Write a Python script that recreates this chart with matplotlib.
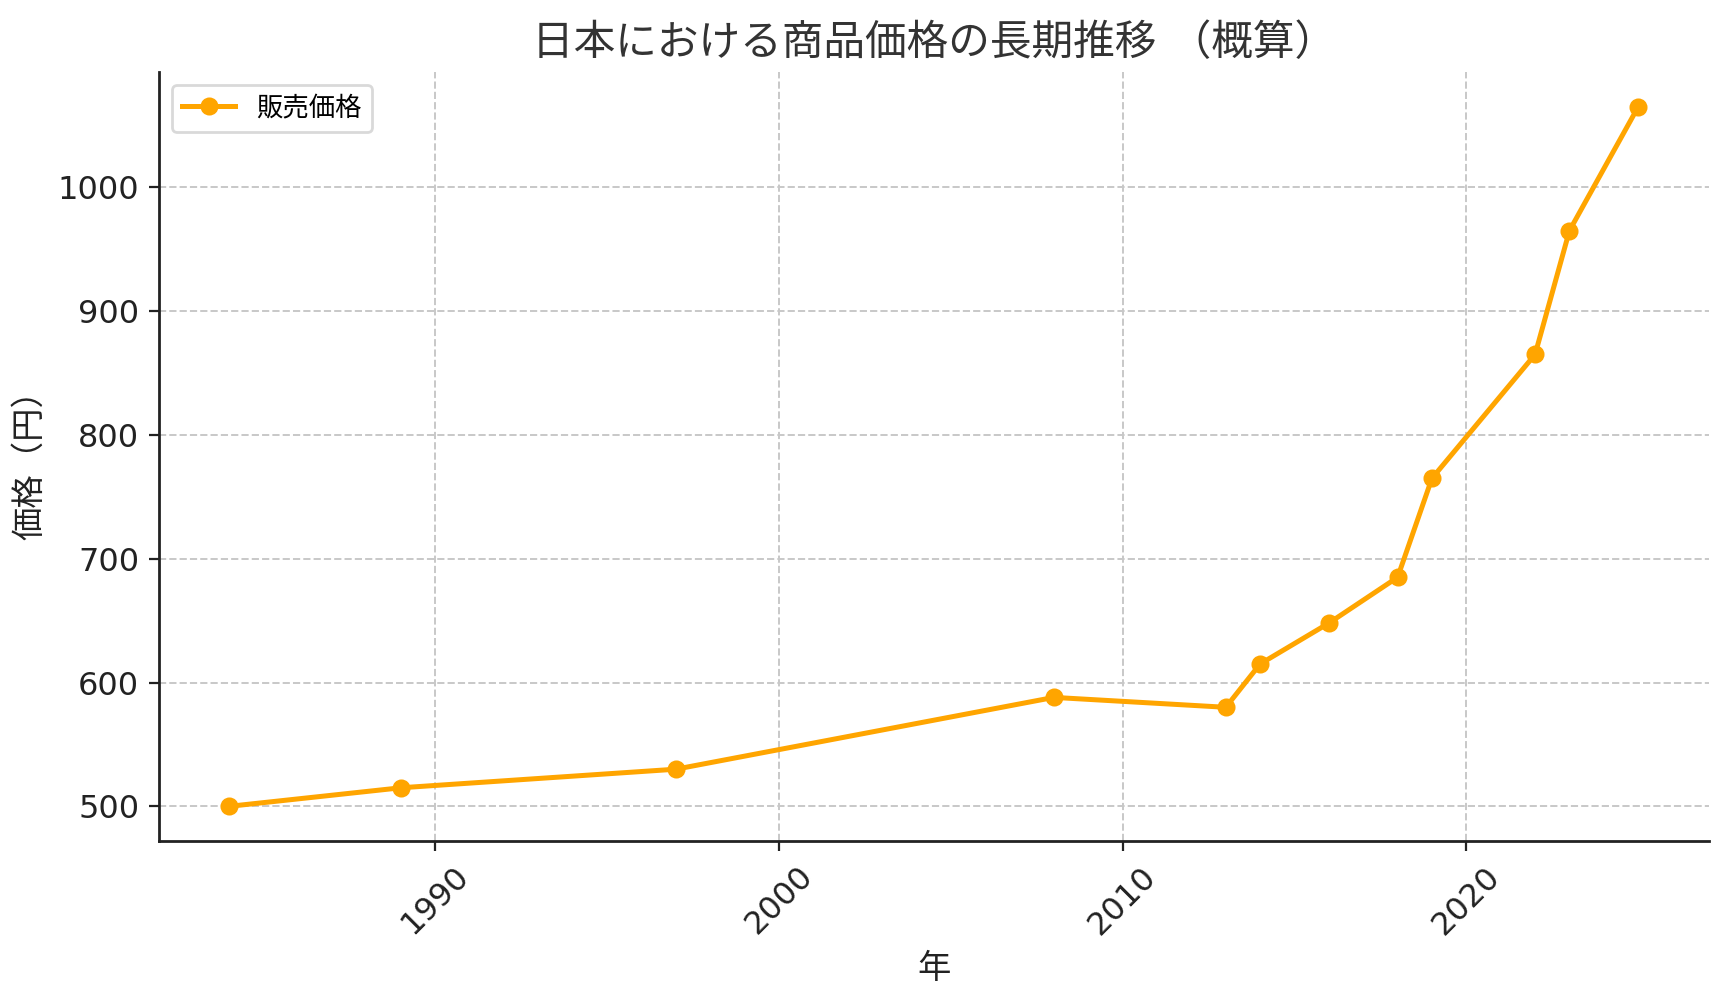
import matplotlib
matplotlib.use("Agg")
import matplotlib.pyplot as plt

plt.rcParams['font.family'] = ['DejaVu Sans', 'Noto Sans CJK JP']

years = [1984, 1989, 1997, 2008, 2013, 2014, 2016, 2018, 2019, 2022, 2023, 2025]
prices = [500, 515, 530, 588, 580, 615, 648, 685, 765, 865, 965, 1065]
yticks = [500, 600, 700, 800, 900, 1000]
xticks = [1990, 2000, 2010, 2020]

title = "日本における商品価格の長期推移 （概算）"
xlabel = "年"
ylabel = "価格（円）"
series_label = "販売価格"

fig = plt.figure(figsize=(8.64, 4.99), dpi=200)
ax = fig.add_axes([0.0918, 0.157, 0.897, 0.771])

ax.plot(years, prices, color='#FFA500', linewidth=1.8, marker='o',
        markersize=5.5, label=series_label)

ax.set_xticks(xticks)
ax.set_yticks(yticks)
ax.tick_params(axis='both', labelsize=11.5, colors='#222222', length=3.5, width=0.8)
for lbl in ax.get_xticklabels():
    lbl.set_rotation(45)

ax.grid(True, linestyle='--', color='#c8c8c8', linewidth=0.7)
ax.set_axisbelow(True)
for s in ['top', 'right']:
    ax.spines[s].set_visible(False)
for s in ['left', 'bottom']:
    ax.spines[s].set_linewidth(1.0)
    ax.spines[s].set_color('#222222')

ax.set_title(title, fontsize=15, color='#333333', pad=6)
ax.set_xlabel(xlabel, fontsize=12, color='#222222')
ax.set_ylabel(ylabel, fontsize=12, color='#222222')

leg = ax.legend(loc='upper left', fontsize=9.5, frameon=True, fancybox=True)
leg.get_frame().set_edgecolor('#d0d0d0')

fig.savefig('out.png', dpi=200)
